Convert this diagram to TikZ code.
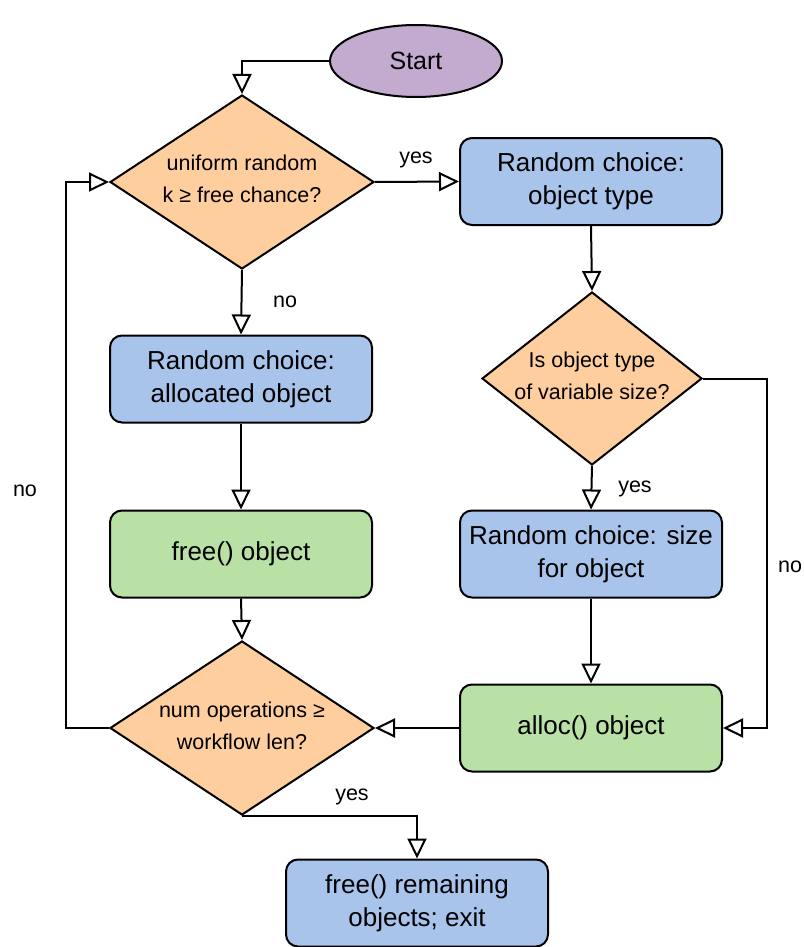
\documentclass[tikz,border=0pt]{standalone}
\usepackage{fontspec}
\setmainfont{Liberation Sans}
\usetikzlibrary{shapes.geometric,arrows.meta}

\definecolor{boxblue}{HTML}{A9C4EB}
\definecolor{boxgreen}{HTML}{B9E0A5}
\definecolor{decorange}{HTML}{FFCE9F}
\definecolor{startpurple}{HTML}{C3ABD0}

\tikzset{
  procbox/.style={draw=black, line width=2pt, rounded corners=12pt, minimum width=262pt,
    minimum height=87pt, inner sep=0pt, align=center, font=\fontsize{26}{33}\selectfont},
  bluebox/.style={procbox, fill=boxblue},
  greenbox/.style={procbox, fill=boxgreen},
  decision/.style={draw=black, line width=2pt, diamond, fill=decorange, minimum width=264pt,
    minimum height=174pt, inner sep=0pt, aspect=1.52},
  dectext/.style={inner sep=0pt, align=center, font=\fontsize{21.5}{32}\selectfont},
  terminal/.style={draw=black, line width=2pt, ellipse, fill=startpurple, minimum width=172pt,
    minimum height=72pt, inner sep=0pt, font=\fontsize{25}{30}\selectfont},
  flow/.style={-{Triangle[open, length=20pt, width=19pt]}, line width=2pt},
  edgelabel/.style={font=\fontsize{21.5}{24}\selectfont, inner sep=0pt}
}

\begin{document}
\begin{tikzpicture}[x=1pt, y=-1pt]
  \useasboundingbox (0,0) rectangle (803,947);

  % shapes
  \node[terminal] (start) at (416,61) {Start};
  \node[decision] (chance) at (242,182) {};
  \node[dectext] (chancetext) at (242,178.5) {uniform random\\k ≥ free chance?};
  \node[bluebox] (objtype) at (591,181.5) {Random choice:\\object type};
  \node[decision, minimum width=220pt, minimum height=173pt, aspect=1.27] (varsize) at (592,378.5) {};
  \node[dectext] (varsizetext) at (592,376) {Is object type\\of variable size?};
  \node[bluebox] (pickobj) at (241,379) {Random choice:\\allocated object};
  \node[greenbox] (freeobj) at (241,554) {free() object};
  \node[bluebox] (pksize) at (591,554) {Random choice: size\\for object};
  \node[decision] (numops) at (242,728) {};
  \node[dectext] (numopstext) at (242,726) {num operations ≥\\workflow len?};
  \node[greenbox] (allocobj) at (591,728) {alloc() object};
  \node[bluebox] (finish) at (417,903) {free() remaining\\objects; exit};

  % connectors
  \draw[flow] (start.west) -| (chance.north);
  \draw[flow] (chance.east) -- (objtype.west);
  \draw[flow] (chance.south) -- (pickobj.north);
  \draw[flow] (pickobj.south) -- (freeobj.north);
  \draw[flow] (freeobj.south) -- (numops.north);
  \draw[flow] (numops.west) -- ++(-43,0) |- (chance.west);
  \draw[flow] (numops.south) -| (finish.north);
  \draw[flow] (objtype.south) -- (varsize.north);
  \draw[flow] (varsize.south) -- (pksize.north);
  \draw[flow] (varsize.east) -- ++(64,0) |- (allocobj.east);
  \draw[flow] (pksize.south) -- (allocobj.north);
  \draw[flow] (allocobj.west) -- (numops.east);

  % branch labels
  \node[edgelabel] (lblyes1) at (416,160) {yes};
  \node[edgelabel] (lblno1) at (285,302) {no};
  \node[edgelabel] (lblno2) at (25,491) {no};
  \node[edgelabel] (lblyes2) at (635,489) {yes};
  \node[edgelabel] (lblno3) at (790,567) {no};
  \node[edgelabel] (lblyes3) at (352,797) {yes};
\end{tikzpicture}
\end{document}
